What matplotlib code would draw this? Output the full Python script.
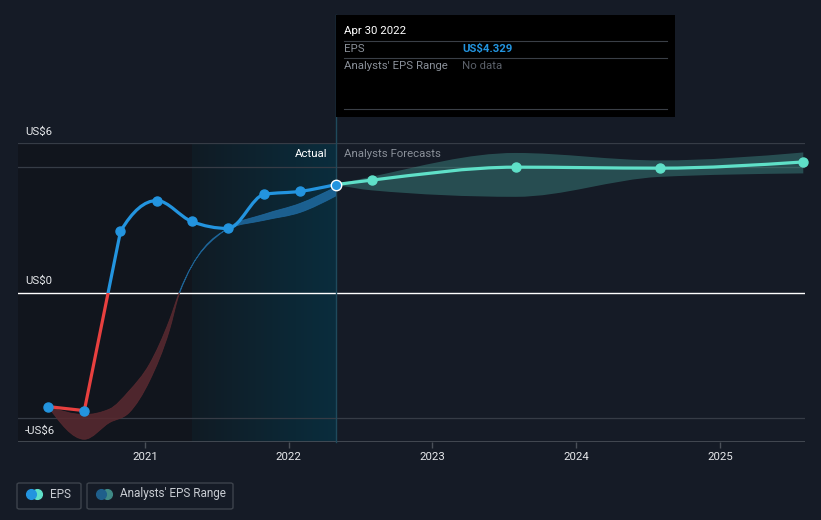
import numpy as np
import pandas as pd
import matplotlib
matplotlib.use("Agg")
import matplotlib.pyplot as plt
from matplotlib.path import Path
from matplotlib.patches import PathPatch, Rectangle, FancyBboxPatch
from matplotlib.lines import Line2D
from matplotlib.colors import LinearSegmentedColormap

plt.rcParams['font.family'] = ['Roboto', 'DejaVu Sans']

# ---- data ----
eps_dates = ["2020-04-30", "2020-07-31", "2020-10-31", "2021-01-31", "2021-04-30",
             "2021-07-31", "2021-10-31", "2022-01-31", "2022-04-30"]
eps_values = [-4.58, -4.74, 2.45, 3.69, 2.85, 2.57, 3.94, 4.06, 4.329]

fc_dates = ["2022-04-30", "2022-07-31", "2023-07-31", "2024-07-31", "2025-07-31"]
fc_values = [4.329, 4.51, 5.03, 4.99, 5.24]
fc_low = [4.329, 4.10, 3.84, 4.64, 4.78]
fc_high = [4.329, 4.65, 5.60, 5.30, 5.62]

past_dates = ["2020-04-30", "2020-07-31", "2020-10-03", "2020-11-22", "2021-01-13",
              "2021-03-04", "2021-03-30", "2021-07-31", "2021-10-31", "2022-01-31", "2022-04-30"]
past_low = [-4.58, -5.89, -5.22, -4.82, -3.54, -1.53, -0.03, 2.55, 2.90, 3.22, 3.87]
past_high = [-4.58, -4.90, -4.68, -3.95, -2.87, -1.13, 0.03, 2.59, 3.14, 3.58, 4.23]

year_ticks = [2021, 2022, 2023, 2024, 2025]
y_labels = {6: "US$6", 0: "US$0", -6: "-US$6"}

BG = "#151b26"
BLUE = "#2394df"
RED = "#e8403f"
TEAL = "#5fe0c8"


def dec_year(s):
    d = pd.Timestamp(s)
    n = 366 if d.is_leap_year else 365
    return d.year + (d.dayofyear - 1) / n


def curve_path(xs, ys, seg_in=None, seg_out=None):
    # monotone cubic bezier through the points;
    # seg_in / seg_out: {point index: segment index} -> use that segment's slope as tangent
    xs = np.asarray(xs, float)
    ys = np.asarray(ys, float)
    n = len(xs)
    h = np.diff(xs)
    s = np.diff(ys) / h
    t = np.zeros(n)
    for i in range(1, n - 1):
        p = (s[i - 1] * h[i] + s[i] * h[i - 1]) / (h[i - 1] + h[i])
        t[i] = (np.sign(s[i - 1]) + np.sign(s[i])) * min(abs(s[i - 1]), abs(s[i]), 0.5 * abs(p))
    t[0] = (3 * s[0] - t[1]) / 2
    t[-1] = (3 * s[-1] - t[-2]) / 2
    ti, to = t.copy(), t.copy()
    for k, j in (seg_in or {}).items():
        ti[k] = s[j]
    for k, j in (seg_out or {}).items():
        to[k] = s[j]
    verts = [(xs[0], ys[0])]
    codes = [Path.MOVETO]
    for i in range(n - 1):
        dx = h[i] / 3
        verts += [(xs[i] + dx, ys[i] + dx * to[i]),
                  (xs[i + 1] - dx, ys[i + 1] - dx * ti[i + 1]),
                  (xs[i + 1], ys[i + 1])]
        codes += [Path.CURVE4] * 3
    return verts, codes


def band_path(xs, lo, hi):
    v1, c1 = curve_path(xs, hi)
    v2, c2 = curve_path(xs[::-1], lo[::-1])
    c2[0] = Path.LINETO
    return Path(v1 + v2 + [v1[0]], c1 + c2 + [Path.CLOSEPOLY])


ex = [dec_year(d) for d in eps_dates]
fx = [dec_year(d) for d in fc_dates]
px_ = [dec_year(d) for d in past_dates]

W, H = 821, 520
fig = plt.figure(figsize=(W / 100, H / 100), dpi=100, facecolor=BG)
ax = fig.add_axes([18 / W, 1 - 442 / H, 787 / W, 299 / H])
ax.set_facecolor(BG)
x0, x1 = 2020.118, 2025.59
for sp in ax.spines.values():
    sp.set_visible(False)

# shaded regions
split = dec_year("2021-04-30")
now = ex[-1]
ax.axvspan(x0, split, color="#11151d", zorder=0)
grad = np.linspace(0, 1, 256).reshape(1, -1)
cm = LinearSegmentedColormap.from_list("g", ["#101b24", "#0a2d3d"])
ax.imshow(grad, extent=[split, now, -6, 6], aspect="auto", cmap=cm, zorder=0.5)
ax.set_xlim(x0, x1)
ax.set_ylim(-6, 6)

# gridlines
for yv in [6, 5.03, -5.03]:
    ax.axhline(yv, color="#363c46", lw=0.9, zorder=1)
ax.axhline(-6, color="#4a5059", lw=1.2, zorder=1)
ax.axhline(0, color="#ffffff", lw=1.0, zorder=2)

# y labels
for yv, lab in y_labels.items():
    ax.text(x0 + 0.05, yv + 0.25, lab, color="#e6e8eb", fontsize=8.2, va="bottom", ha="left", zorder=5)

# x ticks
ax.set_xticks(year_ticks)
ax.set_xticklabels([str(y) for y in year_ticks])
ax.tick_params(axis="x", colors="#4a5059", length=4, width=1, labelcolor="#e6e8eb", labelsize=8.2, pad=3)
ax.set_yticks([])

# past analyst range band (red below zero, blue above)
pb = band_path(px_, past_low, past_high)
below = Rectangle((x0, -7), x1 - x0, 7, transform=ax.transData)
above = Rectangle((x0, 0), x1 - x0, 7, transform=ax.transData)
p = PathPatch(pb, facecolor="#5a2a30", edgecolor="#5a2a30", lw=0.6, alpha=0.85, zorder=3)
ax.add_patch(p)
p.set_clip_path(below)
p = PathPatch(pb, facecolor="#1f6aa0", edgecolor="#1f6aa0", lw=0.6, alpha=0.85, zorder=3)
ax.add_patch(p)
p.set_clip_path(above)

# forecast band
ax.add_patch(PathPatch(band_path(fx, fc_low, fc_high), facecolor="#3d8c86", edgecolor="none",
                       alpha=0.45, zorder=3))

# vertical "now" line
ax.plot([now, now], [-6, 11.15], color="#1f4a5c", lw=1.0, clip_on=False, zorder=2)

# EPS line: straight into the trough, steep out of it
v, c = curve_path(ex, eps_values, seg_in={1: 0, 2: 1}, seg_out={0: 0, 1: 1})
for col, clip in [(BLUE, above), (RED, below)]:
    p = PathPatch(Path(v, c), facecolor="none", edgecolor=col, lw=2.3, zorder=4)
    ax.add_patch(p)
    p.set_clip_path(clip)
ax.plot(ex[:-1], eps_values[:-1], "o", color=BLUE, ms=6.5, zorder=5)

# forecast line
v, c = curve_path(fx, fc_values)
ax.add_patch(PathPatch(Path(v, c), facecolor="none", edgecolor=TEAL, lw=2.3, zorder=4))
ax.plot(fx[1:], fc_values[1:], "o", color=TEAL, ms=6.5, zorder=5, clip_on=False)
ax.plot([now], [eps_values[-1]], "o", color=BLUE, mec="white", mew=1.0, ms=7.5, zorder=6)

ax.text(now - 0.06, 5.55, "Actual", color="#ffffff", fontsize=8.2, ha="right", va="center", zorder=5)
ax.text(now + 0.06, 5.55, "Analysts Forecasts", color="#8a9099", fontsize=8.2, ha="left", va="center", zorder=5)


def P(x, y):
    return x / W, 1 - y / H


# tooltip
fig.patches.append(Rectangle(P(336, 117), 339 / W, 102 / H, transform=fig.transFigure,
                             facecolor="#000000", edgecolor="none", zorder=10))
fig.text(*P(344, 31), "Apr 30 2022", color="#ffffff", fontsize=8.2, va="center", zorder=11)
for yy in [41, 58, 109]:
    fig.add_artist(Line2D([344 / W, 667 / W], [1 - yy / H] * 2, color="#3a3f47", lw=0.8, zorder=11))
fig.text(*P(344, 49), "EPS", color="#8a9099", fontsize=8.2, va="center", zorder=11)
fig.text(*P(462, 49), "US$4.329", color=BLUE, fontsize=8.2, va="center", fontweight="bold", zorder=11)
fig.text(*P(344, 66), "Analysts' EPS Range", color="#8a9099", fontsize=8.2, va="center", zorder=11)
fig.text(*P(462, 66), "No data", color="#5b6069", fontsize=8.2, va="center", zorder=11)

# legend
for (lx, rx, c1, c2, lab) in [(17, 81, BLUE, TEAL, "EPS"),
                              (87, 233, "#1f5f8b", "#3f8a86", "Analysts' EPS Range")]:
    fig.patches.append(FancyBboxPatch(P(lx, 509), (rx - lx) / W, 26 / H, transform=fig.transFigure,
                                      boxstyle="round,pad=0,rounding_size=0.003",
                                      facecolor="none", edgecolor="#3d434c", lw=1.0))
    fig.add_artist(Line2D([(lx + 20) / W], [1 - 494 / H], marker="o", ms=7, color=c2, lw=0))
    fig.add_artist(Line2D([(lx + 14) / W], [1 - 494 / H], marker="o", ms=7, color=c1, lw=0))
    fig.text(*P(lx + 33, 494), lab, color="#c8ccd2", fontsize=8.5, va="center")

fig.savefig("out.png", dpi=100, facecolor=BG)
